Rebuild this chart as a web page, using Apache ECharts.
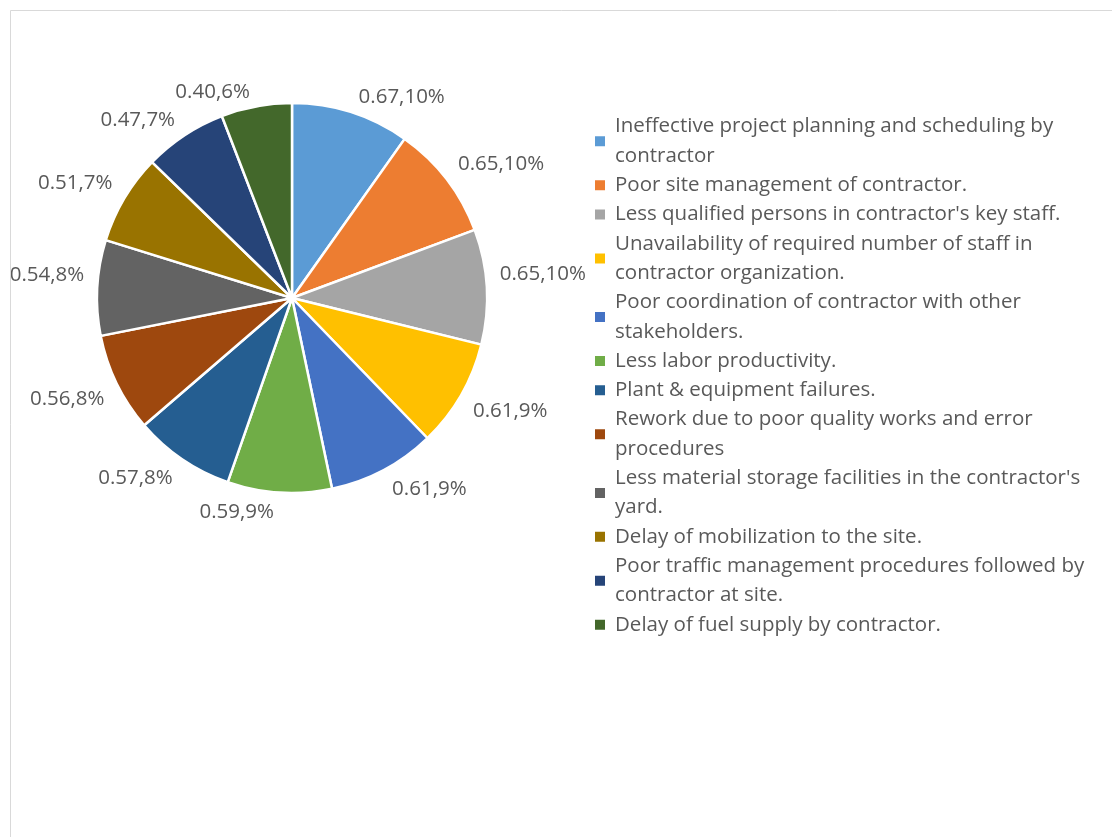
<!DOCTYPE html>
<html>
<head>
<meta charset="utf-8">
<script src="https://cdn.jsdelivr.net/npm/echarts@6/dist/echarts.min.js"></script>
<style>
  html, body { margin: 0; padding: 0; background: #fff; }
  #chart { width: 1112px; height: 837px; }
</style>
</head>
<body>
<div id="chart"></div>
<script>
// Causes of delay attributed to the contractor (wrapped as shown in the legend)
const categories = [
  'Ineffective project planning and scheduling by\ncontractor',
  'Poor site management of contractor.',
  "Less qualified persons in contractor's key staff.",
  'Unavailability of required number of staff in\ncontractor organization.',
  'Poor coordination of contractor with other\nstakeholders.',
  'Less labor productivity.',
  'Plant & equipment failures.',
  'Rework due to poor quality works and error\nprocedures',
  "Less material storage facilities in the contractor's\nyard.",
  'Delay of mobilization to the site.',
  'Poor traffic management procedures followed by\ncontractor at site.',
  'Delay of fuel supply by contractor.'
];
// Relative importance index of each cause
const values = [0.67, 0.65, 0.65, 0.61, 0.61, 0.59, 0.57, 0.56, 0.54, 0.51, 0.47, 0.40];
// Office palette
const colors = ['#5B9BD5', '#ED7D31', '#A5A5A5', '#FFC000', '#4472C4', '#70AD47',
                '#255E91', '#9E480E', '#636363', '#997300', '#264478', '#43682B'];

const FONT = '"Open Sans", sans-serif';
const TEXT = '#595959';

// Mid angle of each slice, measured clockwise from 12 o'clock
const total = values.reduce((a, b) => a + b, 0);
function midAngle(i) {
  let before = 0;
  for (let k = 0; k < i; k++) before += values[k];
  return (before + values[i] / 2) / total * Math.PI * 2;
}

const chart = echarts.init(document.getElementById('chart'), null, { renderer: 'canvas' });
chart.setOption({
  backgroundColor: '#ffffff',
  animation: false,
  color: colors,
  legend: {
    orient: 'vertical',
    left: 593,
    top: 112,
    padding: 0,
    itemWidth: 12,
    itemHeight: 12,
    itemGap: 0,
    icon: 'rect',
    selectedMode: false,
    textStyle: {
      fontFamily: FONT,
      fontSize: 20.5,
      color: TEXT,
      lineHeight: 29.3,
      padding: [0, 0, 0, 4]
    },
    data: categories
  },
  series: [{
    type: 'pie',
    center: [292, 298],
    radius: 195,
    startAngle: 90,
    clockwise: true,
    avoidLabelOverlap: false,
    itemStyle: { borderColor: '#ffffff', borderWidth: 2.5 },
    label: {
      show: true,
      position: 'outside',
      fontFamily: FONT,
      fontSize: 20.5,
      color: TEXT,
      formatter: function (p) {
        return p.value.toFixed(2) + ',' + Math.round(p.percent) + '%';
      }
    },
    labelLine: { show: false, length: 8, length2: 0 },
    // keep label boxes clear of the rim: lift upper labels, drop lower ones
    labelLayout: function (params) {
      const a = midAngle(params.dataIndex);
      const c = Math.cos(a), s = Math.abs(Math.sin(a));
      return { dy: c > 0 ? -(5 + 7 * s) : 12 };
    },
    emphasis: { disabled: true },
    data: categories.map((c, i) => ({ name: c, value: values[i] }))
  }],
  graphic: [
    { type: 'rect', z: 100, shape: { x: 0, y: 0, width: 10, height: 837 }, style: { fill: '#ffffff' } },
    { type: 'rect', z: 100, shape: { x: 0, y: 0, width: 1112, height: 10 }, style: { fill: '#ffffff' } },
    { type: 'rect', z: 101, shape: { x: 10.5, y: 10.5, width: 1200, height: 900 },
      style: { fill: null, stroke: '#D9D9D9', lineWidth: 1 } }
  ]
});
</script>
</body>
</html>
